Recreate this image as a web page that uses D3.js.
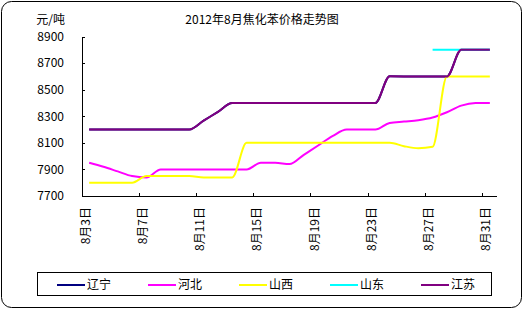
<!DOCTYPE html>
<html>
<head>
<meta charset="utf-8">
<script src="https://cdn.jsdelivr.net/npm/d3@7"></script>
<style>
  body { margin: 0; background: #fff; }
  text { font-family: "Noto Sans CJK SC", "DejaVu Sans", sans-serif; font-size: 12px; fill: #000; }
</style>
</head>
<body>
<svg id="chart" width="525" height="310"></svg>
<script>
// categories: day of August 2012
const days = [3, 4, 5, 6, 7, 8, 9, 10, 11, 12, 13, 14, 15, 16, 17, 18, 19, 20, 21, 22, 23, 24, 25, 26, 27, 28, 29, 30, 31];
const labelDays = [3, 7, 11, 15, 19, 23, 27, 31];
const yTicks = [7700, 7900, 8100, 8300, 8500, 8700, 8900];

const seriesNames = ["辽宁", "河北", "山西", "山东", "江苏"];

// prices (元/吨)
const liaoning = [8200, 8200, 8200, 8200, 8200, 8200, 8200, 8200, 8267, 8333, 8400, 8400, 8400, 8400, 8400, 8400, 8400, 8400, 8400, 8400, 8400, 8600, 8600, 8600, 8600, 8600, 8800, 8800, 8800];
const hebei = [7950, 7920, 7885, 7850, 7840, 7900, 7900, 7900, 7900, 7900, 7900, 7900, 7950, 7950, 7940, 8010, 8080, 8150, 8200, 8200, 8200, 8250, 8260, 8270, 8290, 8330, 8380, 8400, 8400];
const shanxi = [7800, 7800, 7800, 7800, 7850, 7850, 7850, 7850, 7840, 7840, 7840, 8100, 8100, 8100, 8100, 8100, 8100, 8100, 8100, 8100, 8100, 8100, 8075, 8060, 8070, 8600, 8600, 8600, 8600];
const shandong = [null, null, null, null, null, null, null, null, null, null, null, null, null, null, null, null, null, null, null, null, null, null, null, null, 8800, 8800, 8800, 8800, 8800];
const jiangsu = [8200, 8200, 8200, 8200, 8200, 8200, 8200, 8200, 8267, 8333, 8400, 8400, 8400, 8400, 8400, 8400, 8400, 8400, 8400, 8400, 8400, 8600, 8600, 8600, 8600, 8600, 8800, 8800, 8800];

const seriesColors = ["#000080", "#FF00FF", "#FFFF00", "#00FFFF", "#800080"];
const seriesValues = [liaoning, hebei, shanxi, shandong, jiangsu];

const svg = d3.select("#chart");

// outer rounded frame
svg.append("rect")
    .attr("x", 1.5).attr("y", 1.5)
    .attr("width", 520).attr("height", 306)
    .attr("rx", 10)
    .attr("fill", "#fff")
    .attr("stroke", "#000")
    .attr("stroke-width", 1);

const x = d3.scaleBand().domain(days).range([82, 497]).padding(0);
const y = d3.scaleLinear().domain([7700, 8900]).range([196, 36.5]);
const half = x.bandwidth() / 2;

// titles
svg.append("text")
    .attr("x", 262).attr("y", 21)
    .attr("text-anchor", "middle")
    .attr("dominant-baseline", "middle")
    .text("2012年8月焦化苯价格走势图");

svg.append("text")
    .attr("x", 65).attr("y", 21)
    .attr("text-anchor", "end")
    .attr("dominant-baseline", "middle")
    .text("元/吨");

// y axis
const yAxis = svg.append("g")
    .attr("transform", "translate(82,0)")
    .call(d3.axisLeft(y).tickValues(yTicks).tickSize(-3).tickPadding(18).tickFormat(d3.format("d")));
yAxis.select(".domain").attr("d", `M0,${y(8900)}V${y(7700)}`).attr("shape-rendering", "crispEdges");
yAxis.selectAll(".tick line").attr("shape-rendering", "crispEdges");
yAxis.selectAll("text").attr("font-size", 12).attr("font-family", null);

// x axis
const xAxis = svg.append("g");
xAxis.append("line")
    .attr("x1", x.range()[0]).attr("x2", x.range()[1])
    .attr("y1", y(7700)).attr("y2", y(7700))
    .attr("stroke", "#000")
    .attr("shape-rendering", "crispEdges");

xAxis.selectAll(".xtick")
    .data(labelDays.slice(1))
    .enter()
    .append("line")
    .attr("class", "xtick")
    .attr("x1", d => x(d)).attr("x2", d => x(d))
    .attr("y1", y(7700)).attr("y2", y(7700) - 3)
    .attr("stroke", "#000")
    .attr("shape-rendering", "crispEdges");

xAxis.selectAll(".xlabel")
    .data(labelDays)
    .enter()
    .append("text")
    .attr("class", "xlabel")
    .attr("transform", d => `translate(${x(d) + 3.5},207) rotate(-90)`)
    .attr("text-anchor", "end")
    .attr("dy", "0.35em")
    .text(d => `8月${d}日`);

// series lines (smoothed like the original)
const line = d3.line()
    .defined(v => v != null)
    .x((v, i) => x(days[i]) + half)
    .y(v => y(v))
    .curve(d3.curveMonotoneX);

svg.append("g")
    .selectAll("path")
    .data(seriesValues)
    .enter()
    .append("path")
    .attr("d", d => line(d))
    .attr("fill", "none")
    .attr("stroke", (d, i) => seriesColors[i])
    .attr("stroke-width", 2);

// legend
const legend = svg.append("g");
legend.append("rect")
    .attr("x", 37.5).attr("y", 272.5)
    .attr("width", 454).attr("height", 23)
    .attr("fill", "none")
    .attr("stroke", "#000")
    .attr("shape-rendering", "crispEdges");

const item = legend.selectAll(".item")
    .data(seriesNames)
    .enter()
    .append("g")
    .attr("class", "item")
    .attr("transform", (d, i) => `translate(${57 + i * 91},285)`);

item.append("line")
    .attr("x1", 0).attr("x2", 28)
    .attr("stroke", (d, i) => seriesColors[i])
    .attr("stroke-width", 2);

item.append("text")
    .attr("x", 30)
    .attr("dy", "0.35em")
    .text(d => d);
</script>
</body>
</html>
